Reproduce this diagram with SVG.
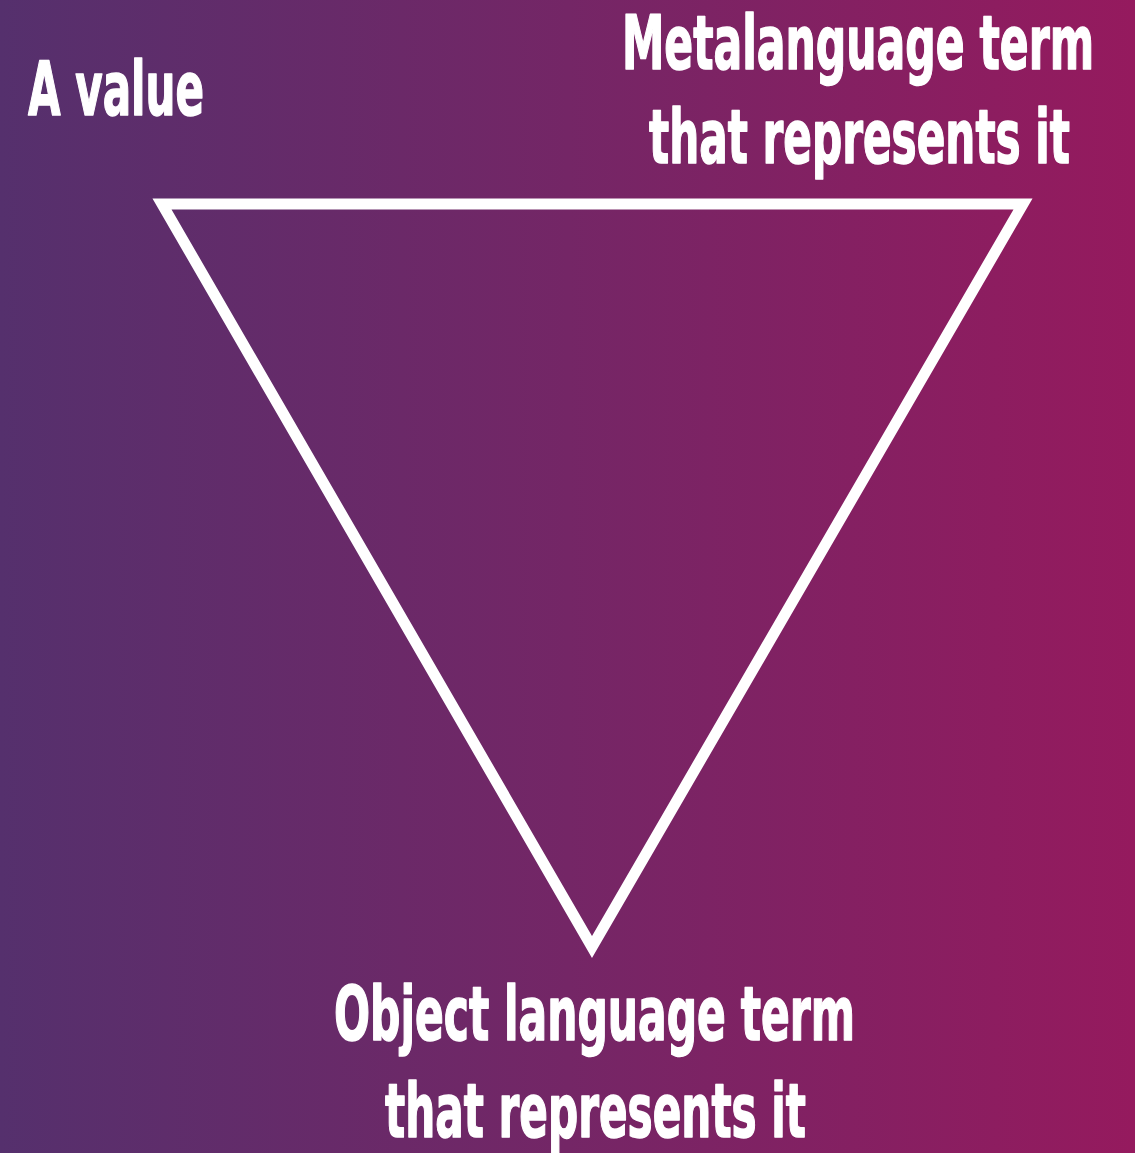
<svg xmlns="http://www.w3.org/2000/svg" width="1135" height="1153" viewBox="0 0 1135 1153">
  <defs>
    <linearGradient id="bg" x1="0" y1="0" x2="1" y2="0">
      <stop offset="0" stop-color="#55306d"/>
      <stop offset="0.5" stop-color="#742666"/>
      <stop offset="1" stop-color="#951a5e"/>
    </linearGradient>
  </defs>
  <style>
    .lbl { font-family: "DejaVu Sans Condensed", "DejaVu Sans", "Liberation Sans", sans-serif; font-stretch: condensed; font-weight: bold; font-size: 75px; fill: #ffffff; stroke: #ffffff; stroke-width: 1.5; stroke-linejoin: round; }
    .edge { fill: none; stroke: #ffffff; stroke-width: 11; stroke-linejoin: miter; stroke-miterlimit: 10; }
  </style>
  <rect x="0" y="0" width="1135" height="1153" fill="url(#bg)"/>
  <g id="connectors">
    <polygon class="edge" points="162,204 1023,204 592,947"/>
  </g>
  <g id="node-value">
    <text class="lbl" transform="scale(0.625,1)" x="44.8" y="115" textLength="281.6" lengthAdjust="spacingAndGlyphs">A value</text>
  </g>
  <g id="node-metalanguage">
    <text class="lbl" transform="scale(0.625,1)" x="995.2" y="69" textLength="755.2" lengthAdjust="spacingAndGlyphs">Metalanguage term</text>
    <text class="lbl" transform="scale(0.625,1)" x="1038.4" y="163" textLength="673.6" lengthAdjust="spacingAndGlyphs">that represents it</text>
  </g>
  <g id="node-object">
    <text class="lbl" transform="scale(0.625,1)" x="534.4" y="1040" textLength="833.6" lengthAdjust="spacingAndGlyphs">Object language term</text>
    <text class="lbl" transform="scale(0.625,1)" x="616" y="1137" textLength="673.6" lengthAdjust="spacingAndGlyphs">that represents it</text>
  </g>
</svg>
